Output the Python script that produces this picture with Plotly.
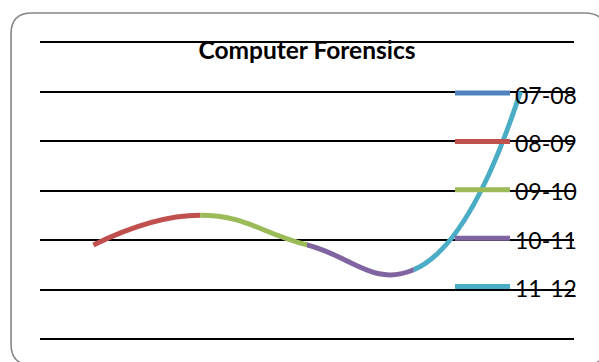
import plotly.graph_objects as go

# ---- data -------------------------------------------------------------
periods = ["07-08", "08-09", "09-10", "10-11", "11-12"]
enrolment = [19, 25, 19, 14, 50]
period_colors = ["#4F81BD", "#C0504D", "#9BBB59", "#8064A2", "#4BACC6"]
y_ticks = [0, 10, 20, 30, 40, 50, 60]
chart_title = "Computer Forensics"

# ---- page geometry (pixels) -------------------------------------------
W, H = 599, 362
PLOT_L, PLOT_R, PLOT_B = 40, 574, 339
GRID_TOP = 42                     # pixel row of the highest gridline
PLOT_T = 37                       # plot area reaches a little above it
FONT = "Lato, 'Open Sans', sans-serif"

# y range extended so the top gridline sits inside the plot area
px_per_unit = (PLOT_B - GRID_TOP) / (y_ticks[-1] - y_ticks[0])
y_max = y_ticks[0] + (PLOT_B - PLOT_T) / px_per_unit

n = len(periods)
xs = list(range(n))


def to_paper(px, py):
    """Convert page pixels to paper coordinates of the plot area."""
    return ((px - PLOT_L) / (PLOT_R - PLOT_L), (PLOT_B - py) / (PLOT_B - PLOT_T))


fig = go.Figure()

# Anchor trace for the main category axis (no visible marks).
fig.add_trace(go.Scatter(x=xs, y=enrolment, mode="markers",
                         marker=dict(opacity=0), hoverinfo="skip",
                         showlegend=False))

# The smoothed line is coloured point by point: each segment takes the
# colour of the period it ends on.  Every segment lives on its own x-axis
# whose domain covers just that stretch, so the full spline is clipped to it.
layout_axes = {}
for i in range(1, n):
    lo = i - 1 - (0.5 if i == 1 else 0)
    hi = i + (0.5 if i == n - 1 else 0)
    name = f"xaxis{i + 1}"
    layout_axes[name] = dict(
        domain=[(lo + 0.5) / n, (hi + 0.5) / n],
        range=[lo, hi], visible=False, anchor="y", fixedrange=True,
    )
    fig.add_trace(go.Scatter(
        x=xs, y=enrolment, xaxis=f"x{i + 1}", yaxis="y",
        mode="lines", line=dict(color=period_colors[i], width=5,
                                shape="spline", smoothing=1.3, simplify=False),
        hoverinfo="skip", showlegend=False,
    ))

# ---- legend drawn as swatches + labels ----------------------------------
shapes = []
annotations = []
LEG_X0, LEG_X1, LEG_TXT = 455, 510, 513
LEG_TOP, LEG_STEP = 93, 48.4
for k, (label, col) in enumerate(zip(periods, period_colors)):
    y_px = LEG_TOP + k * LEG_STEP
    x0, yp = to_paper(LEG_X0, y_px)
    x1, _ = to_paper(LEG_X1, y_px)
    shapes.append(dict(type="line", xref="paper", yref="paper",
                       x0=x0, x1=x1, y0=yp, y1=yp,
                       line=dict(color=col, width=5), layer="above"))
    xt, yt = to_paper(LEG_TXT, y_px + 1.5)
    annotations.append(dict(text=label, xref="paper", yref="paper",
                            x=xt, y=yt, xanchor="left", yanchor="middle",
                            showarrow=False,
                            font=dict(family=FONT, size=23, color="black")))

# ---- rounded chart frame --------------------------------------------------
FL, FT, FR, FB, RAD = 11, 13, 606, 365, 21
corner_pts = [
    (FL + RAD, FT), (FR - RAD, FT), (FR, FT), (FR, FT + RAD),
    (FR, FB - RAD), (FR, FB), (FR - RAD, FB),
    (FL + RAD, FB), (FL, FB), (FL, FB - RAD),
    (FL, FT + RAD), (FL, FT), (FL + RAD, FT),
]
p = [to_paper(*c) for c in corner_pts]
fmt = lambda q: f"{q[0]:.5f},{q[1]:.5f}"
frame_path = (
    f"M{fmt(p[0])} L{fmt(p[1])} Q{fmt(p[2])} {fmt(p[3])} "
    f"L{fmt(p[4])} Q{fmt(p[5])} {fmt(p[6])} "
    f"L{fmt(p[7])} Q{fmt(p[8])} {fmt(p[9])} "
    f"L{fmt(p[10])} Q{fmt(p[11])} {fmt(p[12])} Z"
)
shapes.append(dict(type="path", xref="paper", yref="paper", path=frame_path,
                   line=dict(color="#878787", width=1.6), layer="below"))

fig.update_layout(
    width=W, height=H,
    margin=dict(l=PLOT_L, r=W - PLOT_R, t=PLOT_T, b=H - PLOT_B, pad=0),
    paper_bgcolor="white", plot_bgcolor="rgba(0,0,0,0)",
    showlegend=False,
    title=dict(text=f"<b>{chart_title}</b>", x=0.5, xref="paper",
               xanchor="center", y=1 - 50.5 / H, yref="container",
               yanchor="middle",
               font=dict(family=FONT, size=24.5, color="black")),
    xaxis=dict(domain=[0, 1], range=[-0.5, n - 0.5], visible=False,
               fixedrange=True),
    yaxis=dict(range=[y_ticks[0], y_max], tickvals=y_ticks,
               showticklabels=False, ticks="", showgrid=True,
               gridcolor="black", gridwidth=2, zeroline=True,
               zerolinecolor="black", zerolinewidth=2, showline=False,
               anchor="x", fixedrange=True),
    shapes=shapes,
    annotations=annotations,
    **layout_axes,
)

fig.write_html("out.html", config={"displayModeBar": False})
